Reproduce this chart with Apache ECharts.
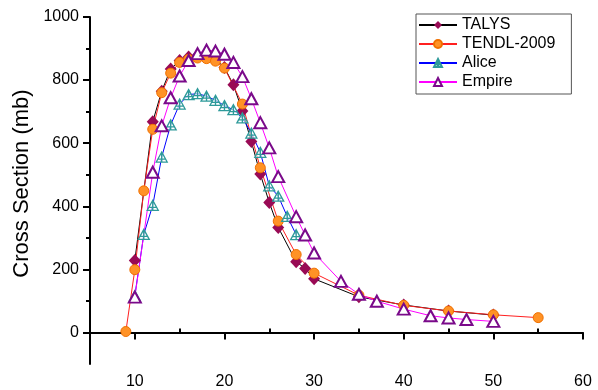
<!DOCTYPE html>
<html>
<head>
<meta charset="utf-8">
<script src="https://cdn.jsdelivr.net/npm/echarts@6/dist/echarts.min.js"></script>
<style>html,body{margin:0;padding:0;background:#fff}#c{width:598px;height:390px}</style>
</head>
<body>
<div id="c"></div>
<script>
var talysX = [10,12,13,14,15,16,17,18,19,20,21,22,23,24,25,26,28,29,30,35,40,45,50];
var talysY = [228,668,765,835,862,873,878,876,866,840,785,702,605,502,412,333,224,203,170,113,87,68,55];
var tendlX = [9,10,11,12,13,14,15,16,17,18,19,20,22,24,26,28,30,35,40,45,50,55];
var tendlY = [3,199,449,644,760,822,856,866,870,868,860,838,724,522,353,247,188,118,86,68,56,47];
var aliceX = [10,11,12,13,14,15,16,17,18,19,20,21,22,23,24,25,26,27,28];
var aliceY = [116,311,403,556,658,724,754,757,749,736,719,706,680,632,571,465,432,368,310];
var empireX = [10,12,13,14,15,16,17,18,19,20,21,22,23,24,25,26,28,29,30,33,35,37,40,43,45,47,50];
var empireY = [112,508,655,744,813,862,884,895,892,882,856,811,741,665,585,494,367,309,252,162,121,99,74,53,46,41,35];
var xMajor = [10,20,30,40,50,60];
var xMinor = [15,25,35,45,55];
var yMajor = [0,200,400,600,800,1000];
var yMinor = [100,300,500,700,900];

function pairs(xs, ys){ return xs.map(function(x,i){ return [x, ys[i]]; }); }
var FONT = 'Arial';
function plain(v){ return String(v); }

var chart = echarts.init(document.getElementById('c'), null, {renderer:'canvas'});
chart.setOption({
  animation: false,
  backgroundColor: '#fff',
  grid: {left: 90, right: 15, top: 17, bottom: 2, containLabel: false},
  xAxis: [{
    type: 'value', min: 5, max: 60,
    axisLine: {onZero: true, onZeroAxisIndex: 0, lineStyle: {color: '#000', width: 2}},
    axisTick: {customValues: xMajor, length: 7, lineStyle: {color: '#000', width: 2}},
    axisLabel: {customValues: xMajor, formatter: plain, margin: 10, fontSize: 16, color: '#000', fontFamily: FONT},
    splitLine: {show: false}
  },{
    type: 'value', min: 5, max: 60,
    axisLine: {show: false, onZero: true, onZeroAxisIndex: 0},
    axisTick: {customValues: xMinor, length: 4, lineStyle: {color: '#000', width: 2}},
    axisLabel: {show: false},
    splitLine: {show: false}
  }],
  yAxis: [{
    type: 'value', min: -100, max: 1000,
    name: 'Cross Section (mb)', nameLocation: 'middle', nameGap: 55,
    nameTextStyle: {fontSize: 22, color: '#000', fontFamily: FONT, padding: [0,0,0,14]},
    axisLine: {onZero: false, lineStyle: {color: '#000', width: 2}},
    axisTick: {customValues: yMajor, length: 7, lineStyle: {color: '#000', width: 2}},
    axisLabel: {customValues: yMajor, formatter: plain, margin: 11, fontSize: 16, color: '#000', fontFamily: FONT},
    splitLine: {show: false}
  },{
    type: 'value', min: -100, max: 1000, position: 'left',
    axisLine: {show: false, onZero: false},
    axisTick: {customValues: yMinor, length: 4, lineStyle: {color: '#000', width: 2}},
    axisLabel: {show: false},
    splitLine: {show: false}
  }],
  legend: {
    orient: 'vertical', left: 416, top: 14,
    padding: [3, 16, 4, 2], itemGap: 3, itemWidth: 38, itemHeight: 10,
    borderColor: '#555', borderWidth: 1,
    textStyle: {fontSize: 16, color: '#000', fontFamily: FONT},
    data: ['TALYS','TENDL-2009','Alice','Empire']
  },
  series: [{
    name: 'TALYS', type: 'line', data: pairs(talysX, talysY),
    symbol: 'diamond', symbolSize: [12, 13],
    lineStyle: {color: '#000', width: 1},
    itemStyle: {color: '#990a55'}
  },{
    name: 'TENDL-2009', type: 'line', data: pairs(tendlX, tendlY),
    symbol: 'circle', symbolSize: 10,
    lineStyle: {color: '#ff2020', width: 1},
    itemStyle: {color: '#ff9226', borderColor: '#f07000', borderWidth: 1}
  },{
    name: 'Alice', type: 'line', data: pairs(aliceX, aliceY),
    symbol: 'path://M5 0 L10 10 L0 10 Z M5 0 L5 10 M1.5 7 L8.5 7', symbolSize: [11, 10],
    lineStyle: {color: '#0000ff', width: 1},
    itemStyle: {color: 'rgba(255,255,255,0.6)', borderColor: '#2e9a9a', borderWidth: 1.3}
  },{
    name: 'Empire', type: 'line', data: pairs(empireX, empireY),
    symbol: 'triangle', symbolSize: [12, 11],
    lineStyle: {color: '#ff00ff', width: 1},
    itemStyle: {color: '#fff', borderColor: '#7a0a8a', borderWidth: 2}
  }]
});
</script>
</body>
</html>
